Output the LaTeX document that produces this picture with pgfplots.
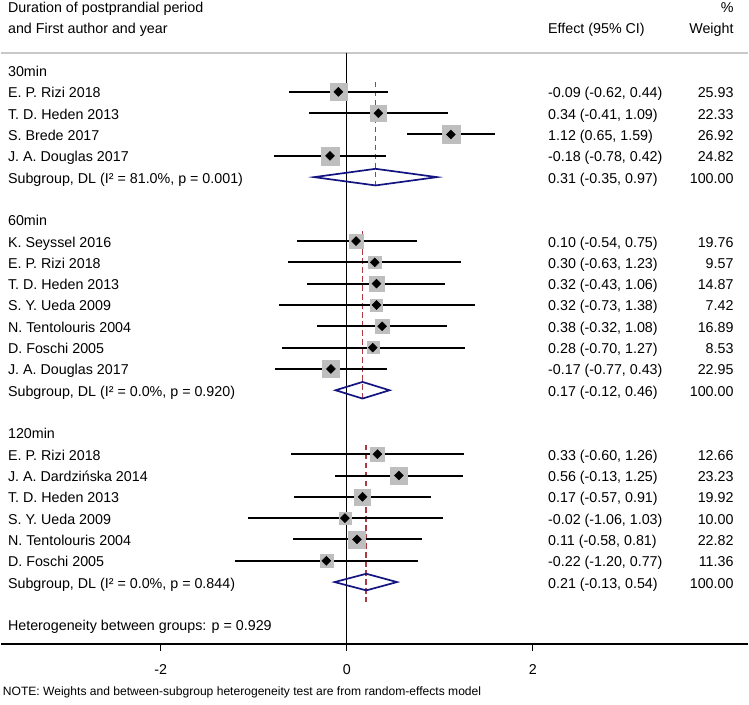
\documentclass[border=0pt]{standalone}
\usepackage{fontspec}
\setmainfont{Liberation Sans}
\usepackage{pgfplots}
\usepackage{pgfplotstable}
\pgfplotsset{compat=1.18}
\definecolor{boxgray}{RGB}{190,190,190}
\definecolor{navyd}{RGB}{20,20,128}
\definecolor{refred}{RGB}{172,58,68}
\definecolor{rulegray}{RGB}{200,200,200}

% k = row index (0 = "30min"), est, lo, hi, box = side of grey box (px)
\pgfplotstableread{
k est lo hi box
1 -0.09 -0.62 0.44 17.3
2 0.34 -0.41 1.09 16.7
3 1.12 0.65 1.59 18
4 -0.18 -0.78 0.42 18
8 0.10 -0.54 0.75 14.7
9 0.30 -0.63 1.23 12.3
10 0.32 -0.43 1.06 14.7
11 0.32 -0.73 1.38 12
12 0.38 -0.32 1.08 14.3
13 0.28 -0.70 1.27 12
14 -0.17 -0.77 0.43 17
18 0.33 -0.60 1.26 14
19 0.56 -0.13 1.25 17
20 0.17 -0.57 0.91 16.3
21 -0.02 -1.06 1.03 12.3
22 0.11 -0.58 0.81 17
23 -0.22 -1.20 0.77 13
}\studies

\newcommand\lab[2]{\node[anchor=base west,inner sep=0,yshift=-6bp] at (axis cs:-3.642,-#1) {#2};}
\newcommand\eff[3]{%
\node[anchor=base west,inner sep=0,yshift=-6bp] at (axis cs:2.163,-#1) {#2};
\node[anchor=base east,inner sep=0,yshift=-6bp] at (axis cs:4.159,-#1) {#3};}

\begin{document}
\fontsize{14.3bp}{17bp}\selectfont
\begin{tikzpicture}
\begin{axis}[
  scale only axis,
  width=749bp, height=645bp,
  xmin=-3.7199, xmax=4.3165,
  ymin=-26.9, ymax=3.311,
  axis x line*=bottom, axis y line=none,
  x axis line style={line width=1.3bp},
  xtick={-2,0,2},
  tick align=outside,
  major tick length=7bp,
  xtick style={black, line width=1.3bp},
  xticklabel style={yshift=-9bp},
  /pgf/number format/assume math mode=true,
  clip=false,
]
% bounding box of whole picture
\path (axis cs:-3.7199,-29.76) rectangle (axis cs:4.3165,3.311);

% header rule
\addplot[rulegray, line width=1.3bp, forget plot] coordinates {(-3.7199,0.83) (4.3165,0.83)};
% null line
\addplot[black, line width=1.3bp, forget plot] coordinates {(0,0.83) (0,-26.9)};

% weight boxes
\addplot[boxgray, scatter, only marks, mark=square*,
  mark options={draw=boxgray, fill=boxgray},
  scatter/use mapped color={draw=boxgray, fill=boxgray},
  visualization depends on={\thisrow{box}/2 \as \hs},
  scatter/@pre marker code/.append style={/tikz/mark size=\hs}]
  table[x=est, y expr=-\thisrow{k}] {\studies};

% subgroup reference lines
\addplot[refred, line width=1.8bp, dash pattern=on 5.5bp off 3.5bp] coordinates {(0.31,-0.53) (0.31,-5.46)};
\addplot[refred, line width=1.8bp, dash pattern=on 5.5bp off 3.5bp] coordinates {(0.17,-7.55) (0.17,-15.35)};
\addplot[refred, line width=1.8bp, dash pattern=on 5.5bp off 3.5bp] coordinates {(0.21,-17.55) (0.21,-24.95)};

% confidence intervals
\addplot[only marks, mark=none,
  error bars/.cd, x dir=both, x explicit, error mark=none,
  error bar style={black, solid, line width=2bp}]
  table[x=est, y expr=-\thisrow{k},
        x error plus expr=\thisrow{hi}-\thisrow{est},
        x error minus expr=\thisrow{est}-\thisrow{lo}] {\studies};

% point estimates
\addplot[only marks, mark=square*, mark size=3.2,
  mark options={rotate=45, fill=black, draw=black}]
  table[x=est, y expr=-\thisrow{k}] {\studies};

% subgroup diamonds
\addplot[navyd, line width=1.7bp] coordinates {(-0.35,-5) (0.31,-4.61) (0.97,-5) (0.31,-5.39)} -- cycle;
\addplot[navyd, line width=1.7bp] coordinates {(-0.12,-15) (0.17,-14.61) (0.46,-15) (0.17,-15.39)} -- cycle;
\addplot[navyd, line width=1.7bp] coordinates {(-0.13,-24) (0.21,-23.61) (0.54,-24) (0.21,-24.39)} -- cycle;

% header
\node[anchor=base west,inner sep=0,yshift=-6bp] at (axis cs:-3.642,3) {Duration of postprandial period};
\node[anchor=base west,inner sep=0,yshift=-6bp] at (axis cs:-3.642,2) {and First author and year};
\node[anchor=base west,inner sep=0,yshift=-6bp] at (axis cs:2.163,2) {Effect (95\% CI)};
\node[anchor=base east,inner sep=0,yshift=-6bp] at (axis cs:4.159,3) {\%};
\node[anchor=base east,inner sep=0,yshift=-6bp] at (axis cs:4.159,2) {Weight};

\lab{0}{30min}
\lab{1}{E. P. Rizi 2018}\eff{1}{-0.09 (-0.62, 0.44)}{25.93}
\lab{2}{T. D. Heden 2013}\eff{2}{0.34 (-0.41, 1.09)}{22.33}
\lab{3}{S. Brede 2017}\eff{3}{1.12 (0.65, 1.59)}{26.92}
\lab{4}{J. A. Douglas 2017}\eff{4}{-0.18 (-0.78, 0.42)}{24.82}
\lab{5}{Subgroup, DL (I² = 81.0\%, p = 0.001)}\eff{5}{0.31 (-0.35, 0.97)}{100.00}

\lab{7}{60min}
\lab{8}{K. Seyssel 2016}\eff{8}{0.10 (-0.54, 0.75)}{19.76}
\lab{9}{E. P. Rizi 2018}\eff{9}{0.30 (-0.63, 1.23)}{9.57}
\lab{10}{T. D. Heden 2013}\eff{10}{0.32 (-0.43, 1.06)}{14.87}
\lab{11}{S. Y. Ueda 2009}\eff{11}{0.32 (-0.73, 1.38)}{7.42}
\lab{12}{N. Tentolouris 2004}\eff{12}{0.38 (-0.32, 1.08)}{16.89}
\lab{13}{D. Foschi 2005}\eff{13}{0.28 (-0.70, 1.27)}{8.53}
\lab{14}{J. A. Douglas 2017}\eff{14}{-0.17 (-0.77, 0.43)}{22.95}
\lab{15}{Subgroup, DL (I² = 0.0\%, p = 0.920)}\eff{15}{0.17 (-0.12, 0.46)}{100.00}

\lab{17}{120min}
\lab{18}{E. P. Rizi 2018}\eff{18}{0.33 (-0.60, 1.26)}{12.66}
\lab{19}{J. A. Dardzińska 2014}\eff{19}{0.56 (-0.13, 1.25)}{23.23}
\lab{20}{T. D. Heden 2013}\eff{20}{0.17 (-0.57, 0.91)}{19.92}
\lab{21}{S. Y. Ueda 2009}\eff{21}{-0.02 (-1.06, 1.03)}{10.00}
\lab{22}{N. Tentolouris 2004}\eff{22}{0.11 (-0.58, 0.81)}{22.82}
\lab{23}{D. Foschi 2005}\eff{23}{-0.22 (-1.20, 0.77)}{11.36}
\lab{24}{Subgroup, DL (I² = 0.0\%, p = 0.844)}\eff{24}{0.21 (-0.13, 0.54)}{100.00}

\lab{26}{Heterogeneity between groups: p = 0.929}

\node[anchor=base west,inner sep=0,font=\fontsize{12.1bp}{14bp}\selectfont] at (axis cs:-3.698,-29.31)
  {NOTE: Weights and between-subgroup heterogeneity test are from random-effects model};
\end{axis}
\end{tikzpicture}
\end{document}
